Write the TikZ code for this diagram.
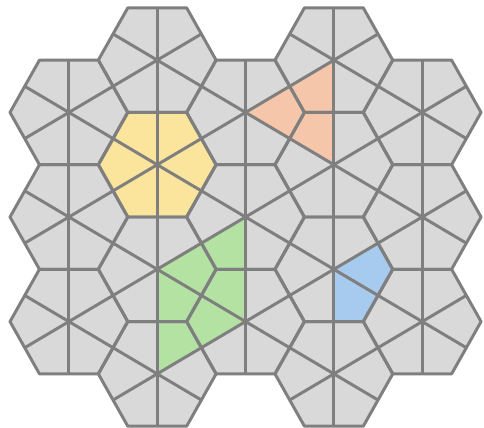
\documentclass[tikz,border=0pt]{standalone}
\usepackage{tikz}
\definecolor{gri}{HTML}{D9D9D9}
\definecolor{koyuGri}{HTML}{7F7F7F}
\definecolor{sari}{HTML}{FBE49B}
\definecolor{turuncu}{HTML}{F5C6AA}
\definecolor{yesil}{HTML}{B3E2A3}
\definecolor{mavi}{HTML}{A7CBEE}
% one kite of the hexagon centred at (#2,#3), at its corner #4
\newcommand{\kiteat}[4]{\fill[#1,shift={(#2,#3)}] (0,0) -- (#4+30:0.866) -- (#4:1) -- (#4-30:0.866) -- cycle;}

\begin{document}
\begin{tikzpicture}[x=1.178cm,y=1.208cm]
\useasboundingbox (-1.17,-0.026) rectangle (7.05,7.058);
\def\merkezler{0/2,0/4,0/6,1.5/1,1.5/3,1.5/5,1.5/7,3/2,3/4,3/6,4.5/1,4.5/3,4.5/5,4.5/7,6/2,6/4,6/6}
% grey hexagons
\foreach \cx/\k in \merkezler
  \fill[gri,shift={(\cx,\k*0.866)}] (0:1)--(60:1)--(120:1)--(180:1)--(240:1)--(300:1)--cycle;
% coloured kites
\foreach \a in {0,60,...,300} {\kiteat{sari}{1.5}{5*0.866}{\a}}
\kiteat{turuncu}{3}{6*0.866}{0}
\kiteat{turuncu}{4.5}{7*0.866}{240}
\kiteat{turuncu}{4.5}{5*0.866}{120}
\kiteat{yesil}{1.5}{3*0.866}{0}
\kiteat{yesil}{1.5}{3*0.866}{300}
\kiteat{yesil}{3}{4*0.866}{240}
\kiteat{yesil}{3}{2*0.866}{120}
\kiteat{yesil}{3}{2*0.866}{180}
\kiteat{yesil}{1.5}{1*0.866}{60}
\kiteat{mavi}{4.5}{3*0.866}{0}
\kiteat{mavi}{4.5}{3*0.866}{300}
% outlines and spokes
\foreach \cx/\k in \merkezler {
  \draw[koyuGri,line width=1.7pt,line join=round,shift={(\cx,\k*0.866)}] (0:1)--(60:1)--(120:1)--(180:1)--(240:1)--(300:1)--cycle;
  \foreach \a in {30,90,...,330}
    \draw[koyuGri,line width=1.7pt,shift={(\cx,\k*0.866)}] (0,0)--(\a:0.866);
}
\end{tikzpicture}
\end{document}
